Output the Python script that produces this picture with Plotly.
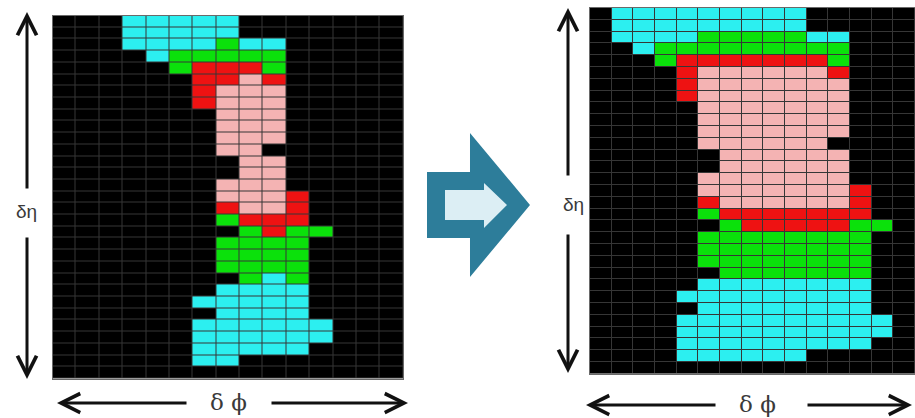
import plotly.graph_objects as go

# Cell categories: '.' empty, 'C' cyan, 'G' green, 'R' red, 'P' pink
categories = ['.', 'C', 'G', 'R', 'P']
category_colors = ['#000000', '#2CEFF0', '#0BE10B', '#EE1212', '#F4B3B3']

left_rows = [
    "...CCCCC.......",
    "...CCCCC.......",
    "...CCCCGCC.....",
    "....CGGGGG.....",
    ".....GRRRG.....",
    "......RRPR.....",
    "......RPPP.....",
    "......RPPP.....",
    ".......PPP.....",
    ".......PPP.....",
    ".......PPP.....",
    ".......PP......",
    "........PP.....",
    "........PP.....",
    ".......PPP.....",
    ".......PPPR....",
    ".......RPPR....",
    ".......GRRR....",
    "........GRGG...",
    ".......GGGG....",
    ".......GGGG....",
    ".......GGGG....",
    "........GCG....",
    ".......CCCC....",
    "......CCCCC....",
    ".......CCCC....",
    "......CCCCCC...",
    "......CCCCCC...",
    "......CCCCC....",
    "......CC.......",
    "...............",
]

right_rows = [
    ".CCCCCCCCC.....",
    ".CCCCCCCCC.....",
    ".CCCCGGGGGCC...",
    "..CGGGGGGGGG...",
    "...GRRRRRRRG...",
    "....RPPPPPPR...",
    "....RPPPPPPP...",
    "....RPPPPPPP...",
    ".....PPPPPPP...",
    ".....PPPPPPP...",
    ".....PPPPPPP...",
    ".....PPPPPP....",
    "......PPPPPP...",
    "......PPPPPP...",
    ".....PPPPPPP...",
    ".....PPPPPPPR..",
    ".....RPPPPPPR..",
    ".....GRRRRRRR..",
    "......GRRRRRGG.",
    ".....GGGGGGGG..",
    ".....GGGGGGGG..",
    ".....GGGGGGGG..",
    "......GGGGGGG..",
    ".....CCCCCCCC..",
    "....CCCCCCCCC..",
    ".....CCCCCCCC..",
    "....CCCCCCCCCC.",
    "....CCCCCCCCCC.",
    "....CCCCCCCCC..",
    "....CCCCCC.....",
    "...............",
]

axis_label_eta = "δη"
axis_label_phi = "δ ϕ"

W, H = 915, 418


def px(x):
    return x / W


def py(y):
    return 1 - y / H


def to_z(rows):
    return [[categories.index(ch) for ch in row] for row in rows]


n = len(categories)
colorscale = []
for i, c in enumerate(category_colors):
    colorscale.append([i / n, c])
    colorscale.append([(i + 1) / n, c])

fig = go.Figure()
for rows, xa, ya in [(left_rows, 'x', 'y'), (right_rows, 'x2', 'y2')]:
    fig.add_trace(go.Heatmap(
        z=to_z(rows),
        x=list(range(len(rows[0]))),
        y=list(range(len(rows))),
        colorscale=colorscale, zmin=-0.5, zmax=n - 0.5,
        showscale=False, xgap=1, ygap=1, hoverinfo='skip',
        xaxis=xa, yaxis=ya,
    ))

ax_common = dict(showticklabels=False, showgrid=False, zeroline=False,
                 ticks='', showline=True, linecolor='#6a6a6a', linewidth=1, mirror=True)
fig.update_layout(
    width=W, height=H,
    margin=dict(l=0, r=0, t=0, b=0),
    paper_bgcolor='white', plot_bgcolor='#363636',
    xaxis=dict(domain=[px(52.5), px(403.3)], range=[-0.5, 14.5], **ax_common),
    yaxis=dict(domain=[py(378.5), py(15.5)], range=[30.5, -0.5], **ax_common),
    xaxis2=dict(domain=[px(590), px(915)], range=[-0.5, 14.5], anchor='y2', **ax_common),
    yaxis2=dict(domain=[py(373.7), py(8)], range=[30.5, -0.5], anchor='x2', **ax_common),
    showlegend=False,
)

# double-headed dimension arrows: (tail, tip) pairs in pixels
arrows = [
    ((27, 190), (27, 12)), ((27, 236), (27, 379)),
    ((568, 177), (568, 8)), ((568, 233), (568, 373)),
    ((188, 403), (57, 403)), ((270, 403), (408, 403)),
    ((717, 405), (586, 405)), ((806, 405), (912, 405)),
]
for (tx, ty), (hx, hy) in arrows:
    fig.add_annotation(x=px(hx), y=py(hy), xref='paper', yref='paper',
                       ax=tx - hx, ay=ty - hy, axref='pixel', ayref='pixel',
                       text='', showarrow=True, arrowhead=5, arrowsize=1.25,
                       arrowwidth=3, arrowcolor='#111111')

for (x, y) in [(26, 211), (573, 205)]:
    fig.add_annotation(x=px(x), y=py(y), xref='paper', yref='paper',
                       xanchor='center', yanchor='middle',
                       text=axis_label_eta, showarrow=False,
                       font=dict(family='Liberation Sans', size=19, color='#3a3a3a'))
for (x, y) in [(229, 402), (757, 404)]:
    fig.add_annotation(x=px(x), y=py(y), xref='paper', yref='paper',
                       xanchor='center', yanchor='middle',
                       text=axis_label_phi, showarrow=False,
                       font=dict(family='DejaVu Serif', size=23, color='#3a3a3a'))


def path(points):
    return 'M ' + ' L '.join(f'{px(x):.5f},{py(y):.5f}' for x, y in points) + ' Z'


outer = [(427, 172), (470, 172), (470, 133), (530, 205), (470, 277), (470, 238), (427, 238)]
inner = [(445, 190), (484, 190), (484, 183), (507, 205), (484, 228), (484, 220), (445, 220)]
fig.add_shape(type='path', xref='paper', yref='paper', path=path(outer),
              fillcolor='#2D7D9A', line=dict(width=0))
fig.add_shape(type='path', xref='paper', yref='paper', path=path(inner),
              fillcolor='#DCEEF4', line=dict(width=0))

fig.write_html("out.html", config={'displayModeBar': False},
               post_script="document.body.style.margin='0px';document.body.style.overflow='hidden';")
